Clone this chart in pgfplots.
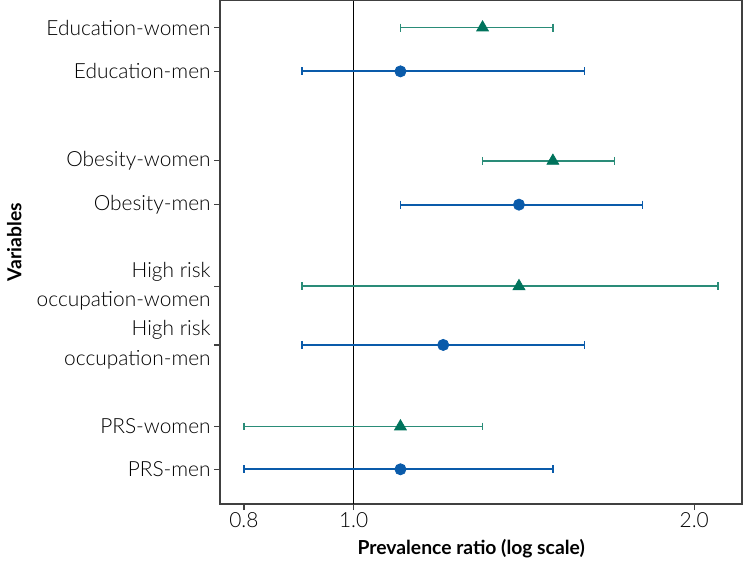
\documentclass[border=0pt]{standalone}
\usepackage{fontspec}
\IfFontExistsTF{Lato Light}
  {\setmainfont{Lato Light}[BoldFont={Lato Bold}]}
  {\setmainfont{Lato}}
\usepackage{pgfplots}
\pgfplotsset{compat=1.18}

\definecolor{womenmark}{HTML}{00735C}
\definecolor{womenline}{HTML}{2A8C78}
\definecolor{menblue}{HTML}{0A5BAA}

\begin{document}
\fontsize{10.5}{13}\selectfont
\begin{tikzpicture}
\begin{axis}[
  scale only axis,
  width=262.5pt, height=253pt,
  xmode=log,
  xmin=0.762, xmax=2.205,
  ymin=0, ymax=506,
  xtick={0.8,1,2},
  xticklabels={0.8,1.0,2.0},
  ytick={35,78,160,219,301,345,435,479},
  yticklabels={PRS-men,PRS-women,{High risk\\occupation-men},{High risk\\occupation-women},Obesity-men,Obesity-women,Education-men,Education-women},
  yticklabel style={align=right, xshift=2pt, font=\fontsize{10.5}{15}\selectfont},
  xticklabel style={yshift=2.5pt, font=\fontsize{10.5}{13}\selectfont},
  xminorticks=false,
  tick align=outside,
  tick pos=left,
  major tick length=3pt,
  tick style={line width=0.6pt, color=black!75},
  axis line style={line width=0.75pt, color=black!75},
  xlabel={\bfseries Prevalence ratio (log scale)},
  ylabel={\bfseries Variables},
  xlabel style={at={(axis description cs:0.481,-0.089)}, anchor=center,
                font=\fontsize{9.7}{12}\selectfont},
  ylabel style={at={(axis description cs:-0.394,0.52)}, anchor=center,
                font=\fontsize{9.7}{12}\selectfont},
  unbounded coords=jump,
  clip=false,
]
% reference line at a ratio of 1
\addplot[black, line width=0.5pt] coordinates {(1,0) (1,506)};

% confidence intervals, women
\addplot[womenline, line width=0.9pt, mark=|, mark size=2pt,
         mark options={line width=0.8pt}] coordinates {
  (1.1,479) (1.5,479) (nan,nan)
  (1.3,345) (1.7,345) (nan,nan)
  (0.9,219) (2.1,219) (nan,nan)
  (0.8,78)  (1.3,78)
};
% confidence intervals, men
\addplot[menblue, line width=0.9pt, mark=|, mark size=2pt,
         mark options={line width=0.8pt}] coordinates {
  (0.9,435) (1.6,435) (nan,nan)
  (1.1,301) (1.8,301) (nan,nan)
  (0.9,160) (1.6,160) (nan,nan)
  (0.8,35)  (1.5,35)
};

% point estimates
\addplot[only marks, mark=triangle*, mark size=3.4pt, color=womenmark] coordinates {
  (1.3,479) (1.5,345) (1.4,219) (1.1,78)
};
\addplot[only marks, mark=*, mark size=2.8pt, color=menblue] coordinates {
  (1.1,435) (1.4,301) (1.2,160) (1.1,35)
};
\end{axis}
\end{tikzpicture}
\end{document}
